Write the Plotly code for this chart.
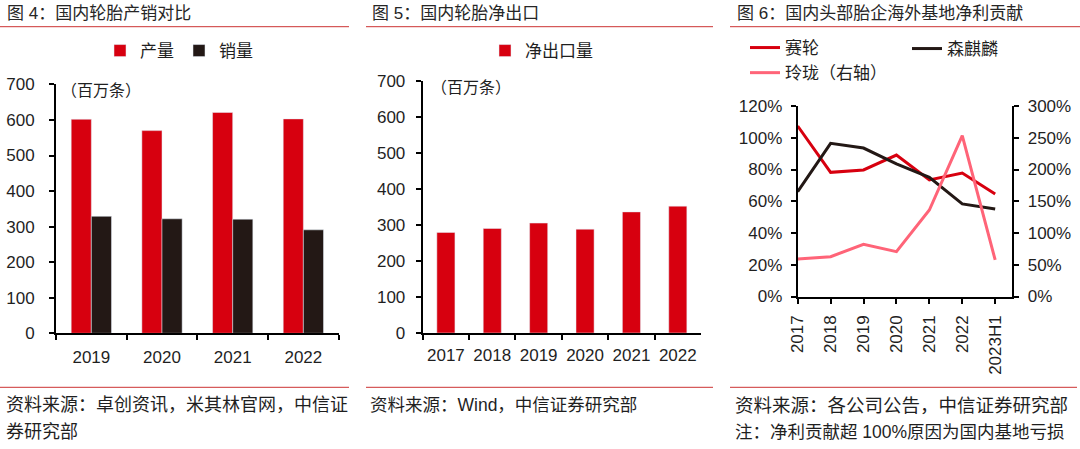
import plotly.graph_objects as go

W, H = 1080, 449
FONT = "Liberation Sans, Arial, Noto Sans CJK SC, sans-serif"
TXT = "#1f1f1f"
RED = "#D7000F"
BLACK = "#231815"
PINK = "#FF6478"
LINE_RED = "#CC3333"

# ---------------- data ----------------
# Panel 1: 国内轮胎产销对比 (百万条)
years1 = ["2019", "2020", "2021", "2022"]
production = [602, 570, 621, 603]
sales = [329, 322, 321, 291]

# Panel 2: 国内轮胎净出口 (百万条)
years2 = ["2017", "2018", "2019", "2020", "2021", "2022"]
net_export = [279, 290, 305, 288, 336, 352]

# Panel 3: 海外基地净利贡献
periods3 = ["2017", "2018", "2019", "2020", "2021", "2022", "2023H1"]
sailun = [1.074, 0.782, 0.797, 0.891, 0.734, 0.778, 0.646]
senqilin = [0.660, 0.965, 0.935, 0.835, 0.751, 0.583, 0.551]
linglong = [0.590, 0.627, 0.822, 0.706, 1.362, 2.532, 0.575]


def px(x):
    return x / W


def py(y):
    return 1 - y / H


fig = go.Figure()

fig.add_trace(go.Bar(x=years1, y=production, name="产量", marker=dict(color=RED),
                     xaxis="x", yaxis="y", legend="legend"))
fig.add_trace(go.Bar(x=years1, y=sales, name="销量", marker=dict(color=BLACK),
                     xaxis="x", yaxis="y", legend="legend"))

fig.add_trace(go.Bar(x=years2, y=net_export, name="净出口量", marker=dict(color=RED),
                     width=0.39, xaxis="x2", yaxis="y2", legend="legend2"))

fig.add_trace(go.Scatter(x=periods3, y=sailun, name="赛轮", mode="lines",
                         line=dict(color=RED, width=3), xaxis="x3", yaxis="y3", legend="legend3"))
fig.add_trace(go.Scatter(x=periods3, y=linglong, name="玲珑（右轴）", mode="lines",
                         line=dict(color=PINK, width=3), xaxis="x3", yaxis="y4", legend="legend3"))
fig.add_trace(go.Scatter(x=periods3, y=senqilin, name="森麒麟", mode="lines",
                         line=dict(color=BLACK, width=3), xaxis="x3", yaxis="y3", legend="legend4"))

axis_common = dict(showline=True, linecolor="black", linewidth=2, ticks="outside",
                   tickcolor="black", tickwidth=2, ticklen=5, showgrid=False, zeroline=False,
                   automargin=False,
                   tickfont=dict(size=17, color=TXT, family=FONT))

legend_common = dict(font=dict(size=17, color=TXT, family=FONT), bgcolor="rgba(0,0,0,0)",
                     borderwidth=0, xanchor="left", yanchor="middle", tracegroupgap=0)

fig.update_layout(
    width=W, height=H, margin=dict(l=0, r=0, t=0, b=0, autoexpand=False),
    paper_bgcolor="white", plot_bgcolor="white",
    font=dict(family=FONT, size=16, color=TXT),
    barmode="group", bargap=0.43, bargroupgap=0,
    xaxis=dict(domain=[px(56), px(338.7)], anchor="y", type="category", tickangle=0,
               tickson="boundaries", ticklabelstandoff=7, **axis_common),
    yaxis=dict(domain=[py(333.3), py(84.4)], anchor="x", range=[0, 700], dtick=100,
               ticklabelstandoff=11, **axis_common),
    xaxis2=dict(domain=[px(422.7), px(701)], anchor="y2", type="category", tickangle=0,
                tickson="boundaries", ticklabelstandoff=6, **axis_common),
    yaxis2=dict(domain=[py(333), py(80.7)], anchor="x2", range=[0, 700], dtick=100,
                ticklabelstandoff=7, **axis_common),
    xaxis3=dict(domain=[px(797.7), px(1012.3)], anchor="y3", type="category",
                range=[0, 6.52], tickangle=-90, ticklabelstandoff=5, **axis_common),
    yaxis3=dict(domain=[py(296.5), py(106)], anchor="x3", range=[0, 1.2], dtick=0.2,
                tickformat=".0%", ticklabelstandoff=5, **axis_common),
    yaxis4=dict(overlaying="y3", anchor="x3", side="right", range=[0, 3], dtick=0.5,
                tickformat=".0%", ticklabelstandoff=5, **axis_common),
    legend=dict(x=px(100), y=py(51), orientation="h", **legend_common),
    legend2=dict(x=px(485), y=py(51), orientation="h", **legend_common),
    legend3=dict(x=px(745), y=py(60.5), orientation="v", **legend_common),
    legend4=dict(x=px(907), y=py(49), orientation="v", **legend_common),
    showlegend=True,
)

shapes = []
for x0, x1 in [(0, 349), (366, 713), (730, 1080)]:
    shapes.append(dict(type="line", xref="paper", yref="paper", x0=px(x0), x1=px(x1),
                       y0=py(26.7), y1=py(26.7), line=dict(color=LINE_RED, width=1)))
for x0, x1 in [(0, 349), (366, 713), (730, 1077)]:
    shapes.append(dict(type="line", xref="paper", yref="paper", x0=px(x0), x1=px(x1),
                       y0=py(387.3), y1=py(387.3), line=dict(color=LINE_RED, width=1)))
fig.update_layout(shapes=shapes)


def ann(text, x, y, size, color=TXT):
    return dict(text=text, x=px(x), y=py(y), xref="paper", yref="paper",
                xanchor="left", yanchor="middle", showarrow=False,
                font=dict(size=size, color=color, family=FONT))


annotations = [
    ann("图 4：国内轮胎产销对比", 5, 13.7, 17, "#262626"),
    ann("图 5：国内轮胎净出口", 370, 13.7, 17, "#262626"),
    ann("图 6：国内头部胎企海外基地净利贡献", 735, 13.7, 17, "#262626"),
    ann("（百万条）", 59, 91, 16),
    ann("（百万条）", 429, 87.3, 16),
    ann("资料来源：卓创资讯，米其林官网，中信证", 4, 405, 18),
    ann("券研究部", 4, 431.7, 18),
    ann("资料来源：Wind，中信证券研究部", 368, 405, 17.5),
    ann("资料来源：各公司公告，中信证券研究部", 733, 405, 18.5),
    ann("注：净利贡献超 100%原因为国内基地亏损", 733, 431.7, 17.5),
]
fig.update_layout(annotations=annotations)

fig.write_html("out.html")
